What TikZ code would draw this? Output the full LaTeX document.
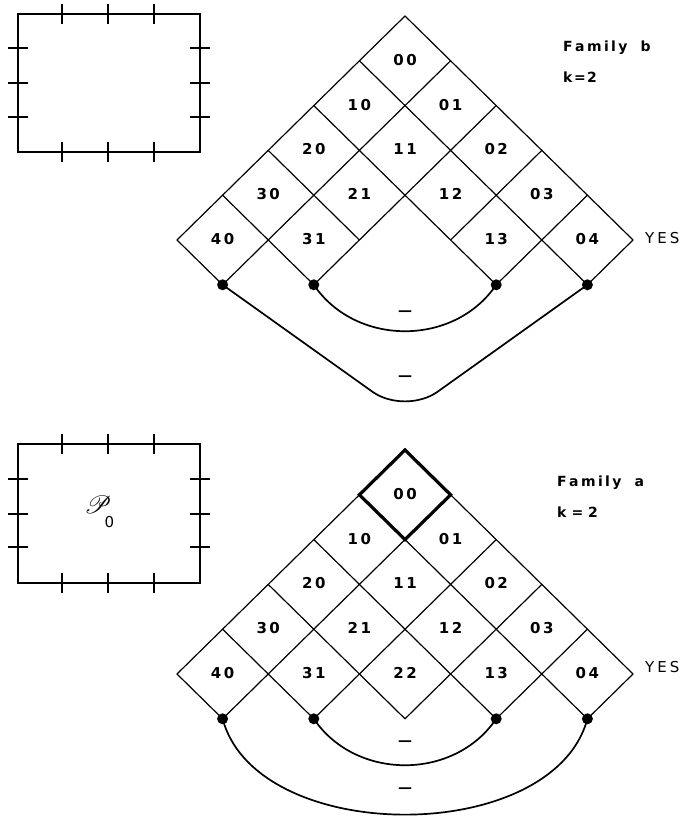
\documentclass[tikz,border=0pt]{standalone}
\usepackage{fontspec}
\usepackage{mathrsfs}
\setmainfont{DejaVu Sans}
\usetikzlibrary{calc}
\newcommand\dd[2]{#1\kern2.5pt#2}
\newcommand\fk{\kern2.4pt}
\begin{document}
\begin{tikzpicture}[x=1pt,y=1pt,
  grid/.style={line width=1.2pt,line cap=round},
  frame/.style={line width=2pt,draw,inner sep=0pt},
  tick/.style={line width=1.8pt},
  arcline/.style={line width=1.7pt},
  bold00/.style={line width=3.2pt,line join=miter},
  dot/.style={circle,fill=black,inner sep=0pt,minimum size=11pt},
  cell/.style={font=\fontsize{15}{15}\selectfont\bfseries,inner sep=0pt},
  minus/.style={font=\fontsize{14}{14}\selectfont\bfseries,inner sep=0pt},
  famlbl/.style={font=\fontsize{14}{14}\selectfont\bfseries,anchor=west,inner sep=0pt},
  yeslbl/.style={font=\fontsize{15}{15}\selectfont,anchor=west,inner sep=0pt}
]
\useasboundingbox (0,0) rectangle (684,818);

% lattice points of both diagrams
\foreach \P/\Y in {T/802,B/368} {
  \foreach \a in {0,...,5} {
    \foreach \b in {0,...,5} {
      \coordinate (\P-\a-\b) at ({405+(\b-\a)*45.6},{\Y-(\a+\b)*44.8});
    }
  }
}

% ---------- left rectangles ----------
\node[frame,minimum width=182pt,minimum height=138pt] (R1) at (109,735) {};
\node[frame,minimum width=182pt,minimum height=139pt] (R2) at (109,304.5) {};
\foreach \x in {62,108,154} {
  \draw[tick] (\x,814) -- (\x,794);
  \draw[tick] (\x,676) -- (\x,656);
  \draw[tick] (\x,384) -- (\x,364);
  \draw[tick] (\x,245) -- (\x,225);
}
\foreach \y in {770,735,701} {
  \draw[tick] (8,\y) -- (28,\y);
  \draw[tick] (190,\y) -- (210,\y);
}
\foreach \y in {339,304,271} {
  \draw[tick] (8,\y) -- (28,\y);
  \draw[tick] (190,\y) -- (210,\y);
}
\node[inner sep=0pt,font=\fontsize{28}{28}\selectfont] (P) at (98,313) {$\mathscr{P}$};
\node[inner sep=0pt,font=\fontsize{15}{15}\selectfont] (P0) at (109.5,296) {0};

% ---------- Family b (top) ----------
\foreach \b/\m in {0/5,1/5,2/4,3/2,4/2,5/1} \draw[grid] (T-0-\b) -- (T-\m-\b);
\foreach \a/\m in {0/5,1/5,2/4,3/2,4/2,5/1} \draw[grid] (T-\a-0) -- (T-\a-\m);
\foreach \i/\j in {0/0,1/0,0/1,2/0,1/1,0/2,3/0,2/1,1/2,0/3,4/0,3/1,1/3,0/4}
  \node[cell] (T-c\i\j) at ({405+(\j-\i)*45.6},{803-(\i+\j+1)*44.8}) {\dd{\i}{\j}};
\node[dot] (Td1) at (T-5-1) {};
\node[dot] (Td2) at (T-4-2) {};
\node[dot] (Td3) at (T-2-4) {};
\node[dot] (Td4) at (T-1-5) {};
\coordinate (Tv) at (405,403);
\draw[arcline] (Td2.center) to[out=-56,in=-124,looseness=1.05] (Td3.center);
\draw[arcline,rounded corners=40pt] (Td1.center) -- (Tv) -- (Td4.center);
\node[minus] (Tm1) at (405,505) {---};
\node[minus] (Tm2) at (405,440) {---};
\node[famlbl] (Tf) at (563,770) {F\fk a\fk m\fk i\fk l\fk y\kern13pt b};
\node[famlbl] (Tk) at (563,741) {k\kern1.5pt=\kern1.5pt2};
\node[yeslbl] (Ty) at (645,580) {Y\kern3pt E\kern3pt S};

% ---------- Family a (bottom) ----------
\foreach \b/\m in {0/5,1/5,2/4,3/3,4/2,5/1} \draw[grid] (B-0-\b) -- (B-\m-\b);
\foreach \a/\m in {0/5,1/5,2/4,3/3,4/2,5/1} \draw[grid] (B-\a-0) -- (B-\a-\m);
\draw[bold00] (B-0-0) -- (B-1-0) -- (B-1-1) -- (B-0-1) -- cycle;
\foreach \i/\j in {0/0,1/0,0/1,2/0,1/1,0/2,3/0,2/1,1/2,0/3,4/0,3/1,2/2,1/3,0/4}
  \node[cell] (B-c\i\j) at ({405+(\j-\i)*45.6},{369-(\i+\j+1)*44.8}) {\dd{\i}{\j}};
\node[dot] (Bd1) at (B-5-1) {};
\node[dot] (Bd2) at (B-4-2) {};
\node[dot] (Bd3) at (B-2-4) {};
\node[dot] (Bd4) at (B-1-5) {};
\draw[arcline] (Bd2.center) to[out=-56,in=-124,looseness=1.05] (Bd3.center);
\draw[arcline] (Bd1.center) to[out=-75,in=-105,looseness=0.93] (Bd4.center);
\node[minus] (Bm1) at (405,75) {---};
\node[minus] (Bm2) at (405,28) {---};
\node[famlbl] (Bf) at (557,335) {F\fk a\fk m\fk i\fk l\fk y\kern13pt a};
\node[famlbl] (Bk) at (557,306) {k\kern5pt=\kern5pt2};
\node[yeslbl] (By) at (645,151) {Y\kern3pt E\kern3pt S};
\end{tikzpicture}
\end{document}
